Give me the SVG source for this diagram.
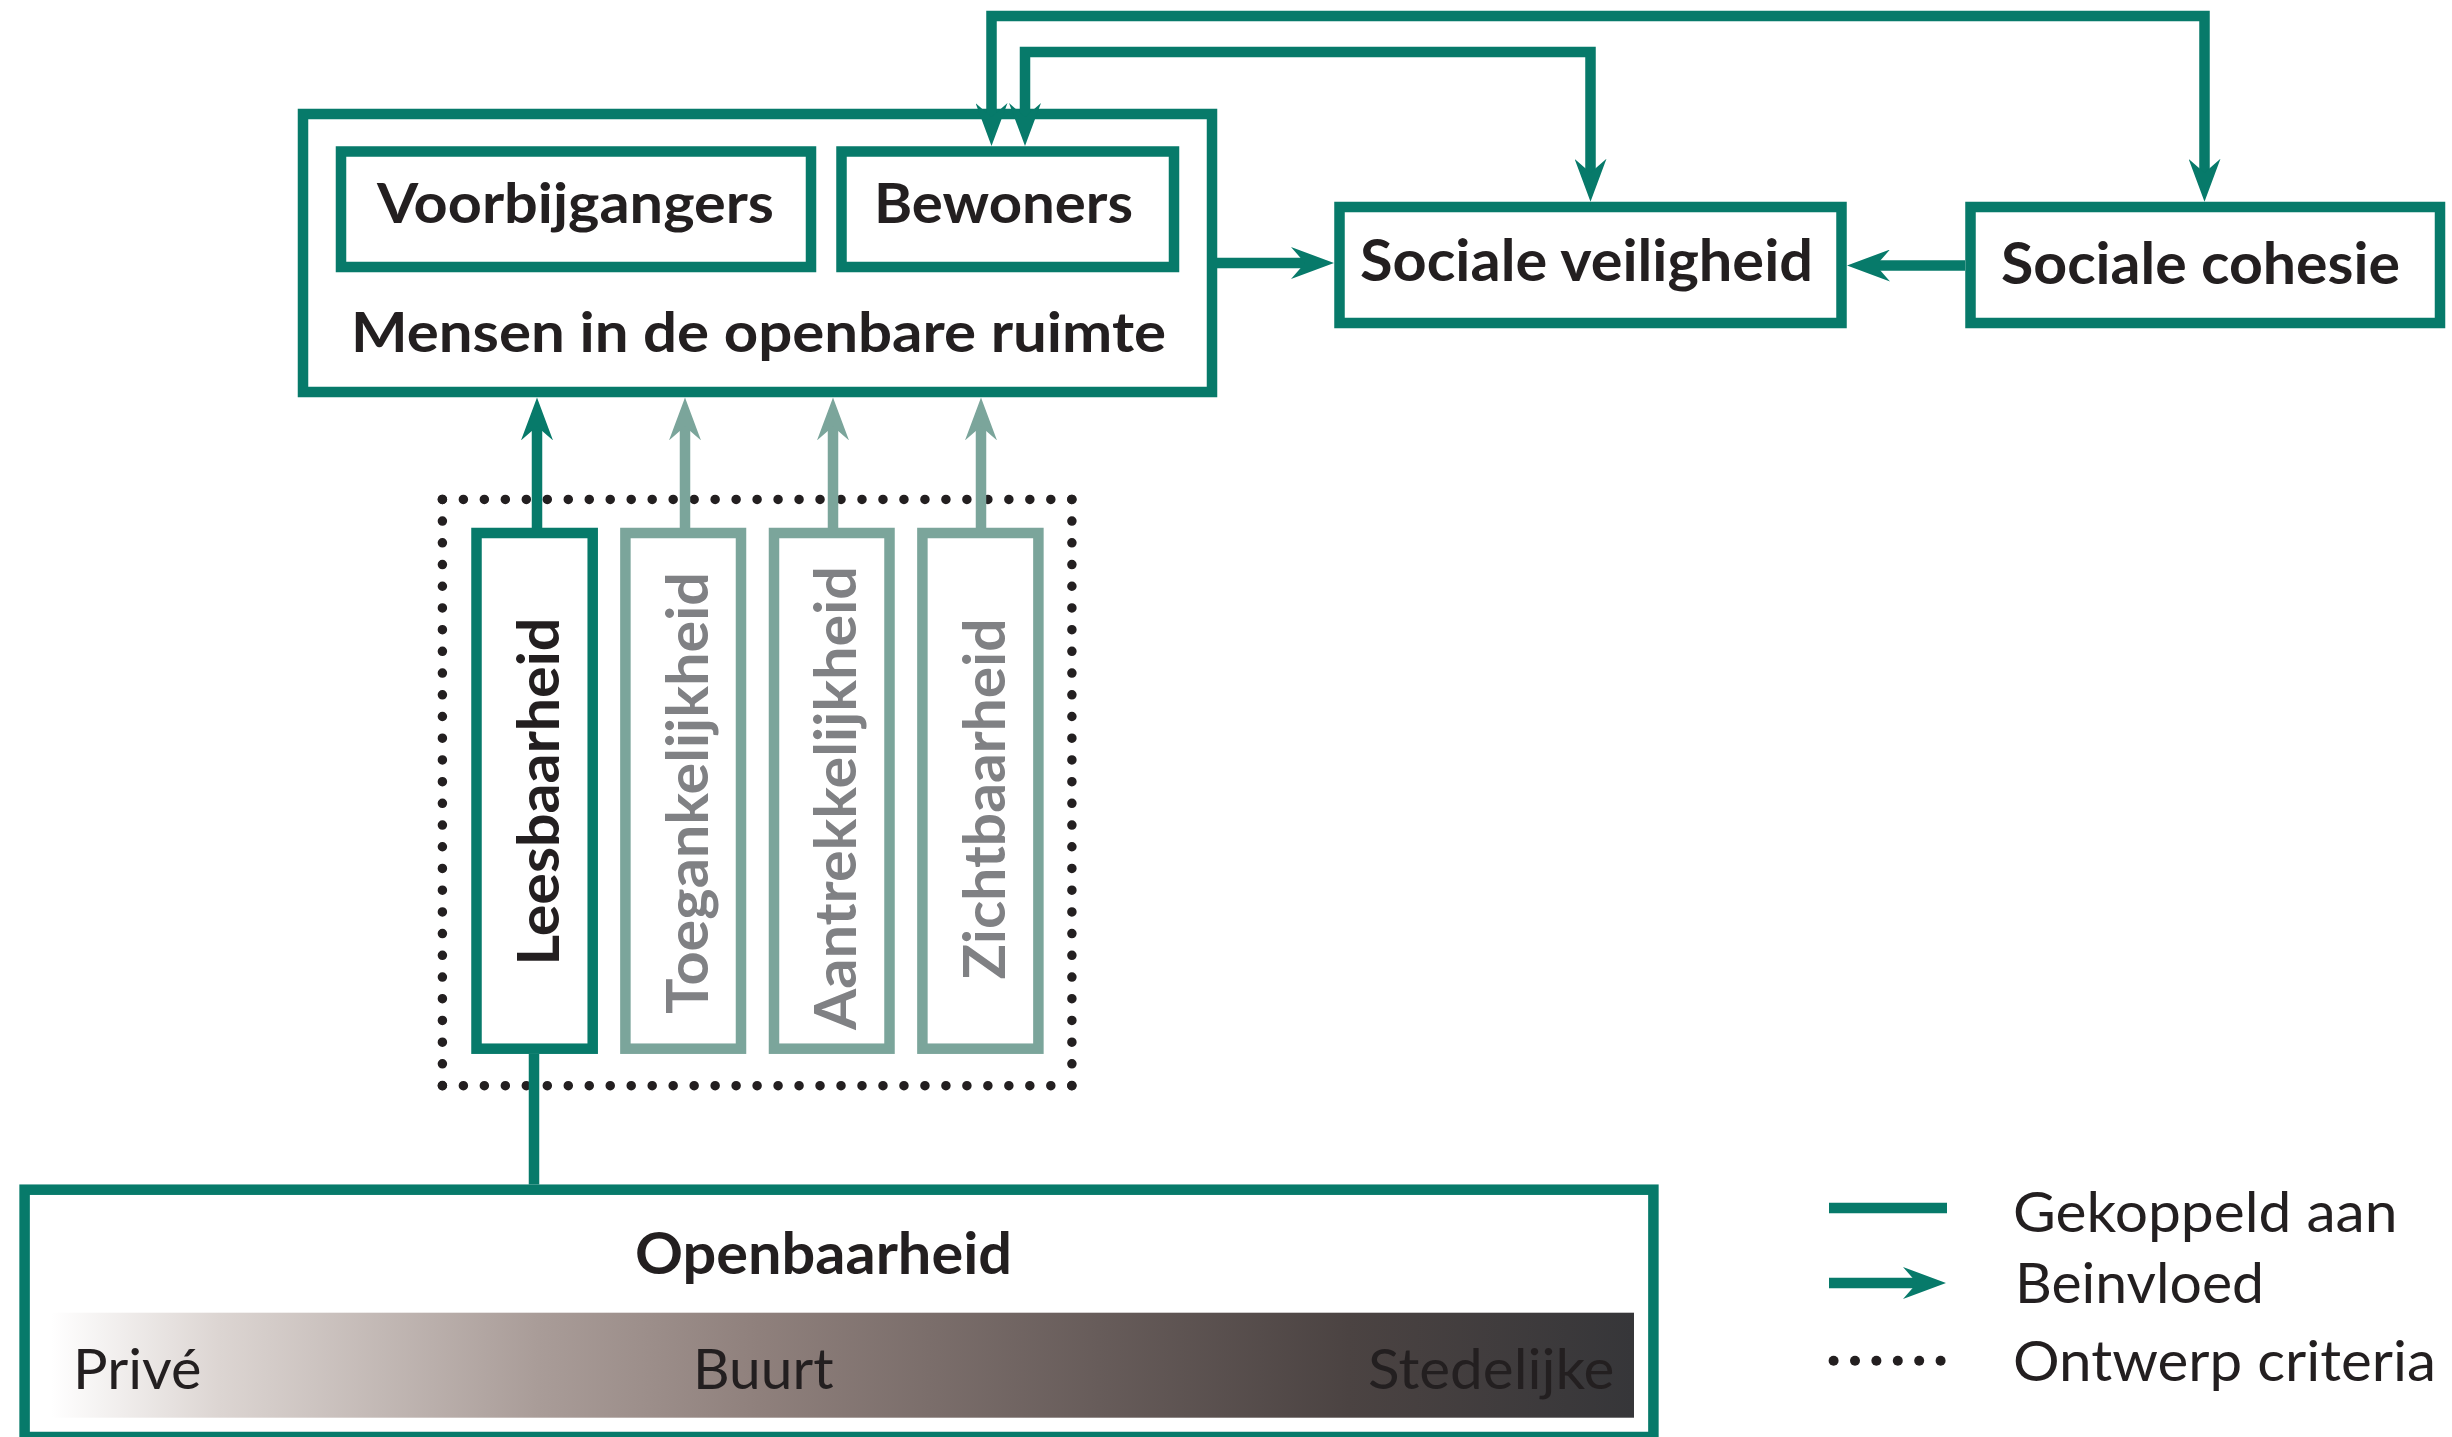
<svg xmlns="http://www.w3.org/2000/svg" width="2452" height="1437" viewBox="0 0 2452 1437">
<defs>
<style>
.box{fill:#ffffff;stroke:#077a6a;stroke-width:10.5}
.lbox{fill:#ffffff;stroke:#7ba59b;stroke-width:10.5}
.ln{fill:none;stroke:#077a6a;stroke-width:10.5;stroke-linejoin:miter}
.lln{fill:none;stroke:#7ba59b;stroke-width:10.5}
.b{font-family:Lato,"Open Sans",sans-serif;font-weight:700;fill:#231f20}
.r{font-family:Lato,"Open Sans",sans-serif;font-weight:400;fill:#231f20}
.g{fill:#808184}
.dot{fill:none;stroke:#231f20;stroke-width:9.5;stroke-linecap:round}
</style>
<marker id="ah" markerUnits="userSpaceOnUse" markerWidth="44" markerHeight="32" viewBox="0 0 44 32" refX="23" refY="16" orient="auto-start-reverse"><path d="M0,0 L43,16 L0,32 L14,16 Z" fill="#077a6a"/></marker>
<marker id="ahl" markerUnits="userSpaceOnUse" markerWidth="44" markerHeight="32" viewBox="0 0 44 32" refX="23" refY="16" orient="auto"><path d="M0,0 L43,16 L0,32 L14,16 Z" fill="#7ba59b"/></marker>
<linearGradient id="grad" x1="0" y1="0" x2="1" y2="0">
<stop offset="0" stop-color="#ffffff"/>
<stop offset="0.106" stop-color="#dcd5d2"/>
<stop offset="0.308" stop-color="#a99c98"/>
<stop offset="0.447" stop-color="#8f807c"/>
<stop offset="0.662" stop-color="#675c5a"/>
<stop offset="0.82" stop-color="#4b4342"/>
<stop offset="1" stop-color="#363639"/>
</linearGradient>
</defs>
<rect width="2452" height="1437" fill="#ffffff"/>

<g id="ontwerp-criteria">
<line class="dot" x1="442.4" y1="499.4" x2="1071.9" y2="499.4" stroke-dasharray="0 20.98"/>
<line class="dot" x1="442.4" y1="1085.7" x2="1071.9" y2="1085.7" stroke-dasharray="0 20.98"/>
<line class="dot" x1="442.4" y1="499.4" x2="442.4" y2="1085.7" stroke-dasharray="0 21.71"/>
<line class="dot" x1="1071.9" y1="499.4" x2="1071.9" y2="1085.7" stroke-dasharray="0 21.71"/>
</g>

<g id="mensen">
<rect class="box" x="303" y="114" width="909" height="278"/>
<text class="b" x="351" y="352" font-size="55" textLength="815" lengthAdjust="spacingAndGlyphs">Mensen in de openbare ruimte</text>
</g>
<g id="voorbijgangers">
<rect class="box" x="341" y="151.5" width="470" height="115.5"/>
<text class="b" x="377" y="223" font-size="56" textLength="397" lengthAdjust="spacingAndGlyphs">Voorbijgangers</text>
</g>
<g id="bewoners">
<rect class="box" x="841.5" y="151.5" width="332.5" height="115.5"/>
<text class="b" x="874" y="223" font-size="56" textLength="259" lengthAdjust="spacingAndGlyphs">Bewoners</text>
</g>
<g id="sociale-veiligheid">
<rect class="box" x="1339.5" y="207" width="502" height="116"/>
<text class="b" x="1360" y="281" font-size="58" textLength="453" lengthAdjust="spacingAndGlyphs">Sociale veiligheid</text>
</g>
<g id="sociale-cohesie">
<rect class="box" x="1970.5" y="207" width="469.5" height="116"/>
<text class="b" x="2001" y="284" font-size="57" textLength="399" lengthAdjust="spacingAndGlyphs">Sociale cohesie</text>
</g>

<g id="leesbaarheid">
<rect class="box" x="476.5" y="533" width="116.2" height="515.7"/>
<text class="b" transform="translate(559.4,791.6) rotate(-90)" text-anchor="middle" font-size="58" textLength="348" lengthAdjust="spacingAndGlyphs">Leesbaarheid</text>
</g>
<g id="toegankelijkheid">
<rect class="lbox" x="625.4" y="533" width="115.6" height="515.7"/>
<text class="b g" transform="translate(708,793) rotate(-90)" text-anchor="middle" font-size="57" textLength="442" lengthAdjust="spacingAndGlyphs">Toegankelijkheid</text>
</g>
<g id="aantrekkelijkheid">
<rect class="lbox" x="774" y="533" width="115.5" height="515.7"/>
<text class="b g" transform="translate(856,798) rotate(-90)" text-anchor="middle" font-size="57" textLength="464" lengthAdjust="spacingAndGlyphs">Aantrekkelijkheid</text>
</g>
<g id="zichtbaarheid">
<rect class="lbox" x="922.4" y="533" width="116" height="515.7"/>
<text class="b g" transform="translate(1005,799) rotate(-90)" text-anchor="middle" font-size="57" textLength="361" lengthAdjust="spacingAndGlyphs">Zichtbaarheid</text>
</g>

<g id="openbaarheid">
<rect class="box" x="24.6" y="1189.7" width="1628.8" height="247.3"/>
<text class="b" x="635" y="1274" font-size="57" textLength="377" lengthAdjust="spacingAndGlyphs">Openbaarheid</text>
<rect x="51.4" y="1312.7" width="1582.6" height="105" fill="url(#grad)"/>
<text class="r" x="73" y="1389" font-size="57" textLength="128.5" lengthAdjust="spacingAndGlyphs">Privé</text>
<text class="r" x="693" y="1389" font-size="57" textLength="140.5" lengthAdjust="spacingAndGlyphs">Buurt</text>
<text class="r" x="1368" y="1389" font-size="57" textLength="246.5" lengthAdjust="spacingAndGlyphs">Stedelijke</text>
</g>

<g id="connectors">
<path class="ln" d="M991.5,126 V16 H2204.5 V181.7" marker-start="url(#ah)" marker-end="url(#ah)"/>
<path class="ln" d="M1025,126 V52 H1590.5 V181.7" marker-start="url(#ah)" marker-end="url(#ah)"/>
<path class="ln" d="M1217,263 H1314" marker-end="url(#ah)"/>
<path class="ln" d="M1965,265.5 H1867" marker-end="url(#ah)"/>
<path class="ln" d="M537,528 V417.4" marker-end="url(#ah)"/>
<path class="lln" d="M685,528 V417.4" marker-end="url(#ahl)"/>
<path class="lln" d="M833,528 V417.4" marker-end="url(#ahl)"/>
<path class="lln" d="M981,528 V417.4" marker-end="url(#ahl)"/>
<path class="ln" d="M534,1054 V1184.5"/>
</g>

<g id="legend">
<line class="ln" x1="1829" y1="1208" x2="1947" y2="1208"/>
<path class="ln" d="M1829,1283 H1926" marker-end="url(#ah)"/>
<g fill="#231f20">
<circle cx="1833.6" cy="1360.7" r="5"/>
<circle cx="1855" cy="1360.7" r="5"/>
<circle cx="1876.4" cy="1360.7" r="5"/>
<circle cx="1897.8" cy="1360.7" r="5"/>
<circle cx="1919.2" cy="1360.7" r="5"/>
<circle cx="1940.6" cy="1360.7" r="5"/>
</g>
<text class="r" x="2013" y="1232" font-size="56" textLength="384.5" lengthAdjust="spacingAndGlyphs">Gekoppeld aan</text>
<text class="r" x="2015" y="1303" font-size="56" textLength="249" lengthAdjust="spacingAndGlyphs">Beinvloed</text>
<text class="r" x="2013" y="1381" font-size="56" textLength="423" lengthAdjust="spacingAndGlyphs">Ontwerp criteria</text>
</g>
</svg>
